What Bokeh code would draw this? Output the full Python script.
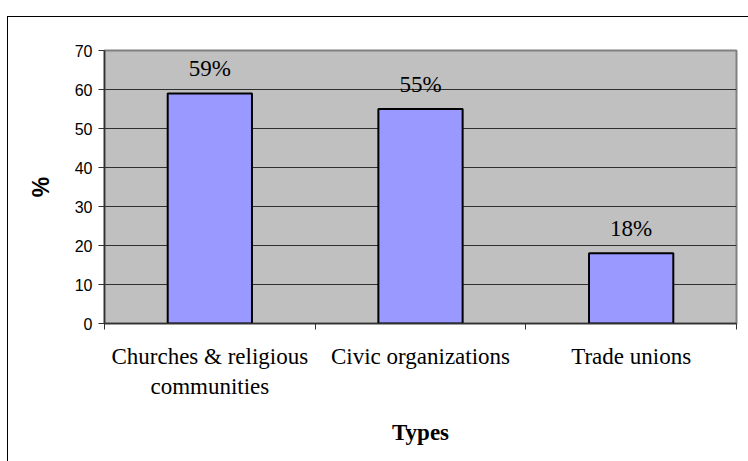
from bokeh.plotting import figure
from bokeh.models import ColumnDataSource, Range1d, FixedTicker, LabelSet
from bokeh.embed import file_html
from bokeh.resources import INLINE

categories = ["Churches & religious\ncommunities", "Civic organizations", "Trade unions"]
values = [59, 55, 18]
y_ticks = [0, 10, 20, 30, 40, 50, 60, 70]

xs = [i + 0.5 for i in range(len(categories))]
src = ColumnDataSource(dict(x=xs, top=values, lab=[f"{v}%" for v in values]))

p = figure(width=741, height=445, output_backend="svg", toolbar_location=None,
           x_range=Range1d(0, len(categories)), y_range=Range1d(0, 70),
           min_border_left=96, min_border_top=33, min_border_right=13, min_border_bottom=139)
p.styles = {"margin-left": "7px", "margin-top": "16px",
            "border-left": "1px solid black", "border-top": "1px solid black"}

p.background_fill_color = "#C0C0C0"
p.border_fill_color = "white"
p.outline_line_color = "#808080"
p.outline_line_width = 2

p.vbar(x="x", top="top", width=0.4, source=src, fill_color="#9999FF",
       line_color="black", line_width=2)

labels = LabelSet(x="x", y="top", text="lab", source=src, text_align="center",
                  text_baseline="bottom", y_offset=12, text_font="Liberation Serif",
                  text_font_size="23px", text_color="black")
p.add_layout(labels)

# y axis
p.yaxis.ticker = FixedTicker(ticks=y_ticks)
p.yaxis.major_tick_out = 6
p.yaxis.major_tick_in = 0
p.yaxis.minor_tick_out = 0
p.yaxis.minor_tick_in = 0
p.yaxis.major_label_text_font = "Liberation Sans"
p.yaxis.major_label_text_font_size = "16px"
p.yaxis.major_label_text_color = "black"
p.yaxis.major_label_standoff = 6
p.yaxis.axis_line_color = "#303030"
p.yaxis.axis_line_width = 1.5
p.yaxis.major_tick_line_color = "#303030"
p.yaxis.axis_label = "%"
p.yaxis.axis_label_text_font = "Liberation Sans"
p.yaxis.axis_label_text_font_style = "bold"
p.yaxis.axis_label_text_font_size = "23px"
p.yaxis.axis_label_text_color = "black"
p.yaxis.axis_label_standoff = 18

# x axis
p.xaxis.ticker = FixedTicker(ticks=xs, minor_ticks=list(range(len(categories) + 1)))
p.xaxis.major_label_overrides = {x: c for x, c in zip(xs, categories)}
p.xaxis.major_tick_out = 0
p.xaxis.major_tick_in = 0
p.xaxis.minor_tick_out = 6
p.xaxis.minor_tick_in = 0
p.xaxis.minor_tick_line_color = "#303030"
p.xaxis.axis_line_color = "#303030"
p.xaxis.axis_line_width = 1.5
p.xaxis.major_label_text_font = "Liberation Serif"
p.xaxis.major_label_text_font_size = "23px"
p.xaxis.major_label_text_color = "black"
p.xaxis.major_label_standoff = 14
p.xaxis.axis_label = "Types"
p.xaxis.axis_label_text_font = "Liberation Serif"
p.xaxis.axis_label_text_font_style = "bold"
p.xaxis.axis_label_text_font_size = "23px"
p.xaxis.axis_label_text_color = "black"
p.xaxis.axis_label_standoff = 18

p.xgrid.grid_line_color = None
p.ygrid.ticker = FixedTicker(ticks=y_ticks)
p.ygrid.grid_line_color = "#303030"
p.ygrid.grid_line_width = 1

open("out.html", "w").write(file_html(p, INLINE))
